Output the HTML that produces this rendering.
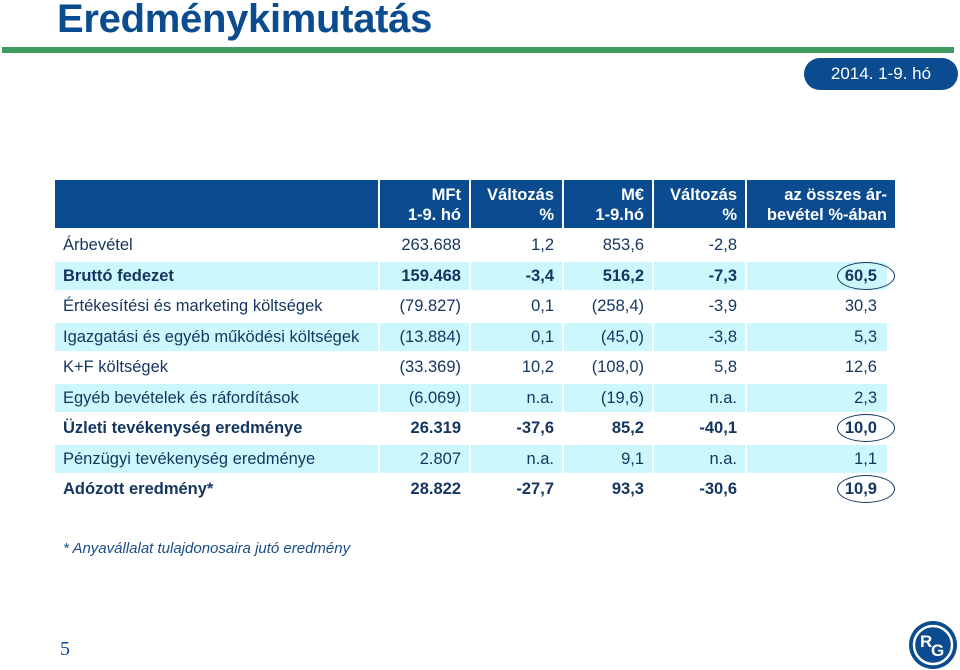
<!DOCTYPE html>
<html><head><meta charset="utf-8"><style>
body{margin:0;width:960px;height:669px;background:#fff;position:relative;overflow:hidden;font-family:"Liberation Sans",Arial,sans-serif;color:#14355f}
.a{position:absolute}
.title{left:57px;top:-3px;font-size:40px;font-weight:bold;color:#0b4b8f;letter-spacing:-0.3px}
.green{left:2px;top:47px;width:952px;height:6px;background:#3e9a5e}
.pill{left:804px;top:58px;width:154px;height:32px;border-radius:16px;background:#0b4b8f;color:#fff;font-size:17px;line-height:32px;text-align:center}
.hc{position:absolute;top:180px;height:48px;background:#0b4b8f;color:#fff;font-weight:bold;font-size:16.5px;line-height:20px;text-align:right;box-sizing:border-box;padding:5px 8px 0 0}
.row{position:absolute;left:55px;width:832px;height:28px;font-size:16.5px}
.cell{position:absolute;top:0;height:28px;line-height:28px;text-align:right;box-sizing:border-box;padding-right:8px}
.blue .cell{background:#ccf8fd}
.b{font-weight:bold}
.ell{position:absolute;border:1.3px solid #14355f;border-radius:50%;width:56px;height:26px;left:837px}
</style></head><body>
<div class="a title">Eredménykimutatás</div>
<div class="a green"></div>
<div class="a pill">2014. 1-9. hó</div>

<div class="hc" style="left:55px;width:323px"></div>
<div class="hc" style="left:380px;width:89px">MFt<br>1-9. hó</div>
<div class="hc" style="left:471px;width:91px">Változás<br>%</div>
<div class="hc" style="left:564px;width:88px">M€<br>1-9.hó</div>
<div class="hc" style="left:654px;width:91px">Változás<br>%</div>
<div class="hc" style="left:747px;width:148px">az összes ár-<br>bevétel %-ában</div>

<div id="tbl"></div>

<div class="a" style="left:63px;top:540px;font-size:15px;font-style:italic;color:#1a4d8a">* Anyavállalat tulajdonosaira jutó eredmény</div>
<div class="a" style="left:60px;top:638px;font-size:20px;font-family:'Liberation Serif',serif;color:#0b4b8f">5</div>
<svg class="a" style="left:908px;top:620px" width="50" height="50">
<circle cx="25" cy="25" r="24" fill="#0b4b8f"/><circle cx="25" cy="25" r="19" fill="none" stroke="#fff" stroke-width="2.5"/>
<text x="12" y="27" font-size="17" font-weight="bold" fill="#fff" font-family="Liberation Sans">R</text>
<text x="23" y="36" font-size="17" font-weight="bold" fill="#fff" font-family="Liberation Sans">G</text>
</svg>
<script>
const labels=["Árbevétel","Bruttó fedezet","Értékesítési és marketing költségek","Igazgatási és egyéb működési költségek","K+F költségek","Egyéb bevételek és ráfordítások","Üzleti tevékenység eredménye","Pénzügyi tevékenység eredménye","Adózott eredmény*"];
const mft=["263.688","159.468","(79.827)","(13.884)","(33.369)","(6.069)","26.319","2.807","28.822"];
const chgHuf=["1,2","-3,4","0,1","0,1","10,2","n.a.","-37,6","n.a.","-27,7"];
const meur=["853,6","516,2","(258,4)","(45,0)","(108,0)","(19,6)","85,2","9,1","93,3"];
const chgEur=["-2,8","-7,3","-3,9","-3,8","5,8","n.a.","-40,1","n.a.","-30,6"];
const share=["","60,5","30,3","5,3","12,6","2,3","10,0","1,1","10,9"];
const bold=[false,true,false,false,false,false,true,false,true];
const circled=[false,true,false,false,false,false,true,false,true];
const cols=[[0,323],[325,89],[416,91],[509,88],[599,91],[692,140]];
const tbl=document.getElementById('tbl');
for(let i=0;i<labels.length;i++){
  const r=document.createElement('div');
  
  
  r.className='row'+(i%2===1?' blue':'')+(bold[i]?' b':'');
  r.style.top=(231+i*30.5)+'px';
  const vals=[labels[i],mft[i],chgHuf[i],meur[i],chgEur[i],share[i]];
  vals.forEach((v,j)=>{
    const c=document.createElement('div');
    
    
    c.className='cell';
    c.style.left=cols[j][0]+'px';c.style.width=cols[j][1]+'px';
    if(j===0){c.style.textAlign='left';c.style.paddingLeft='8px';}
    if(j===5)c.style.paddingRight='10px';
    c.textContent=v;r.appendChild(c);
  });
  tbl.appendChild(r);
  if(circled[i]){
    const e=document.createElement('div');
    
    
    e.className='ell';e.style.top=(231+i*30.5)+'px';
    document.body.appendChild(e);
  }
}
</script>
</body></html>
